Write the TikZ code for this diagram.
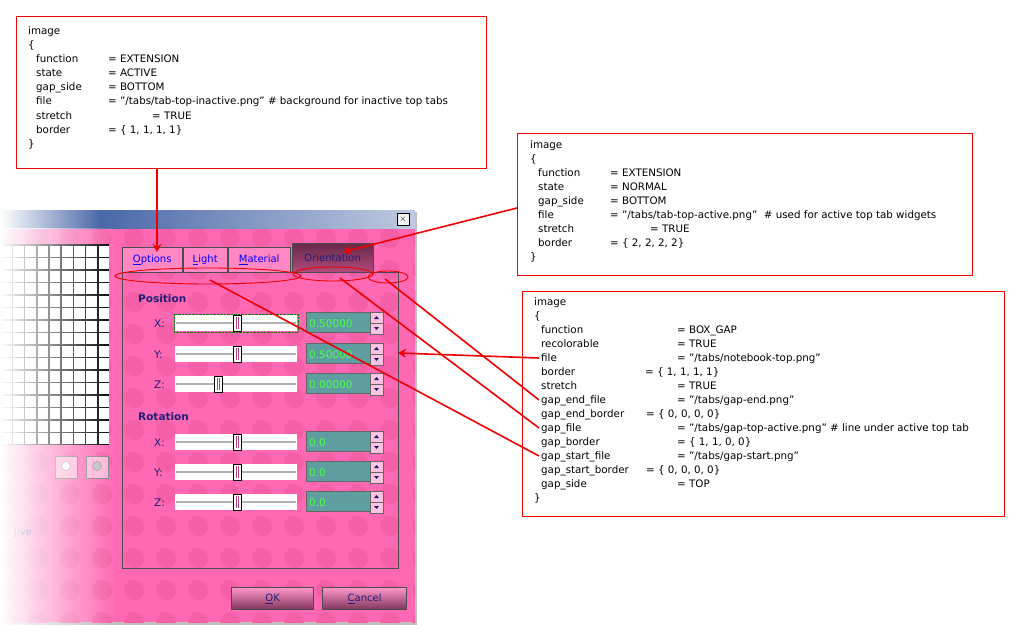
\documentclass[tikz,border=0pt]{standalone}
\usepackage{fontspec}
\setmainfont{DejaVu Sans}[Ligatures=ResetAll]
\usetikzlibrary{arrows.meta,fadings}
\definecolor{pk}{HTML}{FF69B4}
\definecolor{pkd}{HTML}{F45FA8}
\definecolor{teal}{HTML}{5E9EA0}
\definecolor{navy}{HTML}{1E1E78}
\definecolor{tb}{HTML}{4A68A8}
\definecolor{rd}{HTML}{F00000}
\newcommand\qq{\symbol{34}}
\tikzset{
 cb/.style={draw=rd,line width=0.8pt,fill=white,anchor=north west,inner sep=0},
 tx/.style={anchor=base west,inner sep=0,font=\fontsize{10.3}{12}\selectfont},
 lab/.style={anchor=base west,inner sep=0,font=\fontsize{10.5}{12}\selectfont,text=navy},
 red/.style={draw=rd,line width=1.6pt},
 rar/.style={red,-{Stealth[length=8pt,width=9pt]}},
 tab/.style={draw=black!70,fill=pk!80!white,anchor=north west,inner sep=0,font=\fontsize{10}{12}\selectfont,text=blue},
 spin/.style={draw=black!60,fill=teal,anchor=north west,inner sep=0,minimum width=64,minimum height=20},
 sl/.style={fill=white,anchor=north west,inner sep=0,minimum width=122,minimum height=16},
 btn/.style={draw=black!70,line width=1.2pt,top color=pk!70!white,bottom color=pk!50!black,anchor=north west,inner sep=0,minimum height=22,font=\fontsize{10}{12}\selectfont,text=navy},
}
\newcommand\cl[4][]{\node[tx,#1] (#2) at #3 {#4};}
\begin{document}
\begin{tikzpicture}[x=1pt,y=-1pt]
\useasboundingbox (0,0) rectangle (1026,642);
% window
\fill[black!25] (2,212) rectangle (417,625);
\fill[pk] (0,210) rectangle (415,622);
\begin{scope}
\clip (0,228) rectangle (415,622);
\foreach \i in {0,...,13} \foreach \j in {0,...,13}
  \fill[pkd] (\i*32+6,\j*32+238) circle (10);
\end{scope}
\shade[left color=white,right color=tb] (0,210) rectangle (100,228);
\shade[left color=tb,right color=tb!35!white] (100,210) rectangle (415,228);
\node[draw=black,fill=white!90!gray,minimum size=12,inner sep=0,font=\bfseries\small] (close) at (403,219) {$\times$};
% grid
\fill[black] (0,244) rectangle (109,445);
\foreach \i in {0,...,8} \foreach \j in {0,...,15}
  \fill[white] (\i*12.2+1,\j*12.5+245.5) rectangle ++(10.5,11);
\node[draw=black!50,fill=pk!50!white,minimum size=22,inner sep=0] (zo) at (66,467) {};
\node[draw=black!50,fill=pk!50!white,minimum size=22,inner sep=0] (zi) at (97,467) {};
\node[circle,draw=gray,fill=white,minimum size=9,inner sep=0] at (66,466) {};
\node[circle,draw=gray,fill=gray!50,minimum size=9,inner sep=0] at (97,466) {};
% panel
\draw[black!70] (122,272) rectangle (398,568);
\node[tab,minimum width=60,minimum height=25] (t1) at (122,247) {\underline{O}ptions};
\node[tab,minimum width=44,minimum height=25] (t2) at (183,247) {\underline{L}ight};
\node[tab,minimum width=62,minimum height=25] (t3) at (228,247) {\underline{M}aterial};
\node[tab,top color=pk!40!black,bottom color=pk!70!black,minimum width=81,minimum height=29,text=navy] (t4) at (292,243) {Orientation};
\node[lab,font=\bfseries\fontsize{10.5}{12}\selectfont] (pos) at (138,302) {Position};
\node[lab,font=\bfseries\fontsize{10.5}{12}\selectfont] (rot) at (138,420) {Rotation};
\foreach \y/\l/\k/\v in {323/X/237/0.50000,354/Y/237/0.50000,384/Z/218/0.00000,442/X/237/0.0,472/Y/237/0.0,502/Z/237/0.0}{
  \node[lab] at (154,\y+4) {\l:};
  \node[sl] at (175,\y-8) {};
  \draw[gray!60,line width=1.5pt] (176,\y) -- (296,\y);
  \draw[black,fill=white] (\k-4,\y-8) rectangle (\k+4,\y+8);
  \draw[pkd!70!black] (\k-1,\y-6) -- (\k-1,\y+6) (\k+1,\y-6) -- (\k+1,\y+6);
  \node[spin] at (306,\y-11) {};
  \node[anchor=base west,inner sep=0,text=green!70!white,font=\fontsize{10.5}{12}\selectfont] at (309,\y+4) {\v};
  \draw[black!60,fill=pk!40!white] (370,\y-11) rectangle (383,\y) (370,\y) rectangle (383,\y+11);
  \fill[navy] (374,\y-4) -- (379,\y-4) -- (376.5,\y-7) -- cycle (374,\y+4) -- (379,\y+4) -- (376.5,\y+7) -- cycle;
}
\draw[green!50!black,densely dotted] (174,314) rectangle (298,332);
\node[btn,minimum width=82] (ok) at (231,587) {\underline{O}K};
\node[btn,minimum width=84] (cancel) at (322,587) {\underline{C}ancel};
\node[anchor=base west,inner sep=0,text=navy,font=\fontsize{10}{12}\selectfont] at (2,505) {e};
\node[anchor=base west,inner sep=0,text=navy,font=\fontsize{10}{12}\selectfont] at (14,535) {\underline{l}ive};
% fade
\fill[white,path fading=east] (0,228) rectangle (115,625);
% ellipses
\draw[rd,line width=0.9pt] (208,276) ellipse (93 and 8);
\draw[rd,line width=0.9pt] (333,274) ellipse (40 and 7);
\draw[rd,line width=0.9pt] (388,277) ellipse (20 and 6);
\coordinate (e1) at (210,280);
\coordinate (e2) at (340,278);
\coordinate (e3) at (385,279);
% box 1
\node[cb,minimum width=470,minimum height=152] (b1) at (16,16) {};
\cl{a0}{(28,35)}{image}\cl{a1}{(28,49)}{\{}
\cl{a2}{(36,63)}{function}\cl{a2v}{(108,63)}{= EXTENSION}
\cl{a3}{(36,77)}{state}\cl{a3v}{(108,77)}{= ACTIVE}
\cl{a4}{(36,91)}{gap\_side}\cl{a4v}{(108,91)}{= BOTTOM}
\cl{a5}{(36,105)}{file}\cl{a5v}{(108,105)}{= \qq/tabs/tab-top-inactive.png\qq{} \# background for inactive top tabs}
\cl{a6}{(36,119)}{stretch}\cl{a6v}{(152,119)}{= TRUE}
\cl{a7}{(36,133)}{border}\cl{a7v}{(108,133)}{= \{ 1, 1, 1, 1\}}
\cl{a8}{(28,147)}{\}}
% box 2
\node[cb,minimum width=455,minimum height=142] (b2) at (517,133) {};
\cl{c0}{(530,148)}{image}\cl{c1}{(530,162)}{\{}
\cl{c2}{(538,176)}{function}\cl{c2v}{(610,176)}{= EXTENSION}
\cl{c3}{(538,190)}{state}\cl{c3v}{(610,190)}{= NORMAL}
\cl{c4}{(538,204)}{gap\_side}\cl{c4v}{(610,204)}{= BOTTOM}
\cl{c5}{(538,218)}{file}\cl{c5v}{(610,218)}{= \qq/tabs/tab-top-active.png\qq\ \ \# used for active top tab widgets}
\cl{c6}{(538,232)}{stretch}\cl{c6v}{(650,232)}{= TRUE}
\cl{c7}{(538,246)}{border}\cl{c7v}{(610,246)}{= \{ 2, 2, 2, 2\}}
\cl{c8}{(530,260)}{\}}
% box 3
\node[cb,minimum width=482,minimum height=225] (b3) at (522,291) {};
\cl{d0}{(534,305)}{image}\cl{d1}{(534,319)}{\{}
\cl{d2}{(541,333)}{function}\cl{d2v}{(677,333)}{= BOX\_GAP}
\cl{d3}{(541,347)}{recolorable}\cl{d3v}{(677,347)}{= TRUE}
\cl{d4}{(541,361)}{file}\cl{d4v}{(677,361)}{= \qq/tabs/notebook-top.png\qq}
\cl{d5}{(541,375)}{border}\cl{d5v}{(645,375)}{= \{ 1, 1, 1, 1\}}
\cl{d6}{(541,389)}{stretch}\cl{d6v}{(677,389)}{= TRUE}
\cl{d7}{(541,403)}{gap\_end\_file}\cl{d7v}{(677,403)}{= \qq/tabs/gap-end.png\qq}
\cl{d8}{(541,417)}{gap\_end\_border}\cl{d8v}{(646,417)}{= \{ 0, 0, 0, 0\}}
\cl{d9}{(541,431)}{gap\_file}\cl{d9v}{(677,431)}{= \qq/tabs/gap-top-active.png\qq{} \# line under active top tab}
\cl{d10}{(541,445)}{gap\_border}\cl{d10v}{(677,445)}{= \{ 1, 1, 0, 0\}}
\cl{d11}{(541,459)}{gap\_start\_file}\cl{d11v}{(677,459)}{= \qq/tabs/gap-start.png\qq}
\cl{d12}{(541,473)}{gap\_start\_border}\cl{d12v}{(646,473)}{= \{ 0, 0, 0, 0\}}
\cl{d13}{(541,487)}{gap\_side}\cl{d13v}{(677,487)}{= TOP}
\cl{d14}{(534,501)}{\}}
% connectors
\draw[rar] (b1.south -| 157,0) -- (157,252);
\draw[rar] (b2.west |- 0,208) -- (343,252);
\draw[rar] (d4.base west) ++(-2,-3) -- (398,353);
\draw[red] (e3) -- ([shift={(-2,-3)}]d7.base west);
\draw[red] (e2) -- ([shift={(-2,-3)}]d9.base west);
\draw[red] (e1) -- ([shift={(-2,-3)}]d11.base west);
\end{tikzpicture}
\end{document}
